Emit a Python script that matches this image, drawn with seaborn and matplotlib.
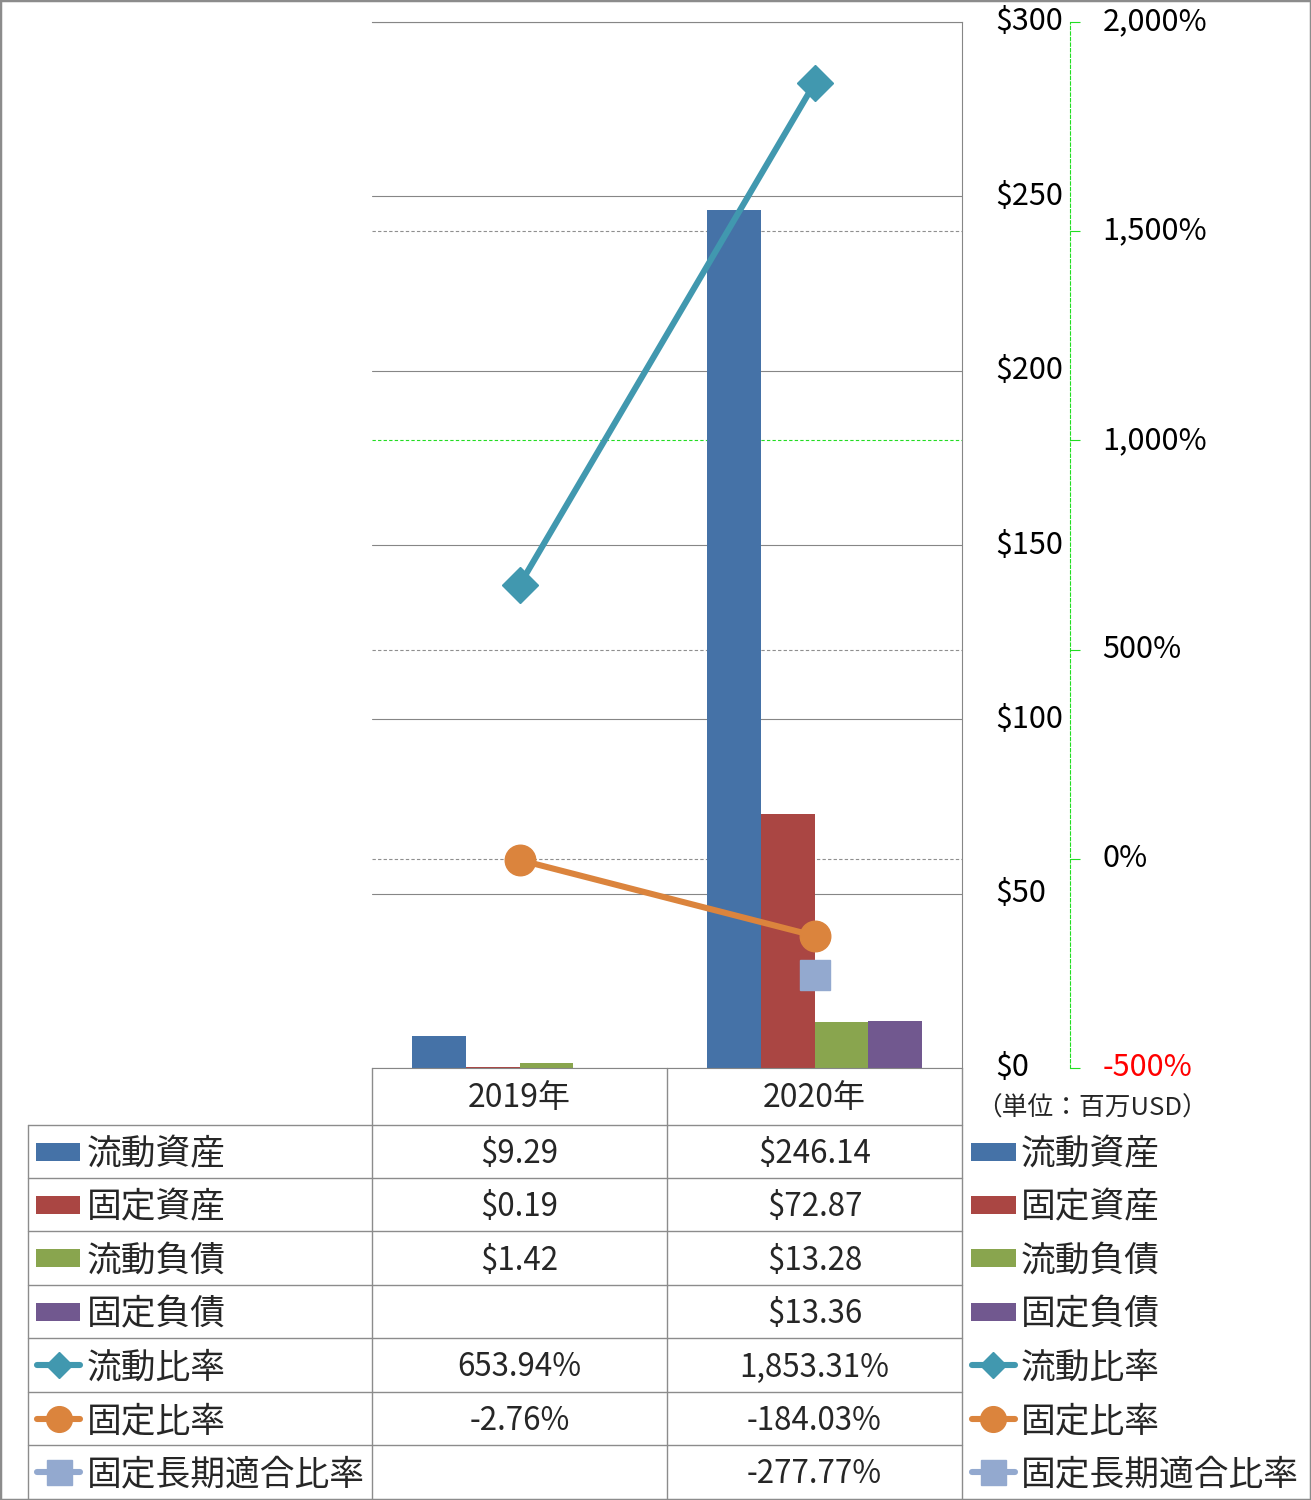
import numpy as np
import pandas as pd
import matplotlib
matplotlib.use("Agg")
import matplotlib.pyplot as plt
import seaborn as sns
from matplotlib.lines import Line2D
from matplotlib.patches import Rectangle

# ---------------- data ----------------
years = ["2019年", "2020年"]
bar_series = ["流動資産", "固定資産", "流動負債", "固定負債"]
current_assets = [9.29, 246.14]
fixed_assets = [0.19, 72.87]
current_liabilities = [1.42, 13.28]
fixed_liabilities = [np.nan, 13.36]

line_series = ["流動比率", "固定比率", "固定長期適合比率"]
current_ratio = [653.94, 1853.31]
fixed_ratio = [-2.76, -184.03]
fixed_long_term_ratio = [np.nan, -277.77]

usd_ticks = [0, 50, 100, 150, 200, 250, 300]
usd_tick_labels = ["$0", "$50", "$100", "$150", "$200", "$250", "$300"]
pct_ticks = [-500, 0, 500, 1000, 1500, 2000]
pct_tick_labels = ["-500%", "0%", "500%", "1,000%", "1,500%", "2,000%"]
unit_label = "（単位：百万USD）"

bar_colors = ["#4572A7", "#AA4643", "#89A54E", "#71588F"]
line_colors = ["#4198AF", "#DB843D", "#93A9CF"]
line_markers = ["D", "o", "s"]

# ---------------- setup ----------------
sns.set_theme(style="white")
plt.rcParams["font.family"] = ["Noto Sans CJK JP", "DejaVu Sans"]

W, H = 1311, 1500
fig = plt.figure(figsize=(W / 100, H / 100), dpi=100)
fig.patch.set_facecolor("white")


def fx(x):
    return x / W


def fy(y):
    return 1 - y / H


GRID = "#868686"
LIME = "#22DD22"

PL, PR, PT, PB = 372, 962, 22, 1068
ax = fig.add_axes([fx(PL), fy(PB), fx(PR) - fx(PL), fy(PT) - fy(PB)])
axg = ax.twinx()
axl = ax.twinx()
axg.set_zorder(1)
ax.set_zorder(2)
axl.set_zorder(3)
for a in (ax, axg, axl):
    a.patch.set_visible(False)

# ---------------- bars ----------------
bar_values = [current_assets, fixed_assets, current_liabilities, fixed_liabilities]
rows = []
for s, vals in zip(bar_series, bar_values):
    for y, v in zip(years, vals):
        if not np.isnan(v):
            rows.append({"year": y, "series": s, "value": v})
df_bars = pd.DataFrame(rows)

sns.barplot(data=df_bars, x="year", y="value", hue="series", order=years,
            hue_order=bar_series, palette=bar_colors, width=0.73,
            saturation=1, errorbar=None, legend=False, linewidth=0, ax=ax)

ax.set_xlim(-0.5, len(years) - 0.5)
ax.set_ylim(usd_ticks[0], usd_ticks[-1])
ax.set_yticks(usd_ticks, usd_tick_labels)
ax.yaxis.tick_right()
ax.tick_params(axis="y", length=0, pad=24, labelsize=22, colors="black",
               right=False, left=False, labelright=True, labelleft=False)
ax.tick_params(axis="x", length=0, labelbottom=False)
ax.set_xlabel("")
ax.set_ylabel("")
ax.yaxis.grid(True, color=GRID, lw=0.8, ls="-")
ax.set_axisbelow(True)
ax.spines["left"].set_visible(False)
for side in ["top", "bottom", "right"]:
    ax.spines[side].set_visible(True)
    ax.spines[side].set_color(GRID)
    ax.spines[side].set_linewidth(0.8)
for t in ax.get_yticklabels():
    t.set_verticalalignment("center")

# ---------------- secondary (percent) axis & grid ----------------
axg.set_ylim(pct_ticks[0], pct_ticks[-1])
axg.set_yticks(pct_ticks, pct_tick_labels)
axg.tick_params(axis="y", direction="out", length=7, width=0.8, color=LIME,
                pad=16, labelsize=22, labelcolor="black")
for side in ["left", "top", "bottom"]:
    axg.spines[side].set_visible(False)
axg.spines["right"].set_position(("outward", 78))
axg.spines["right"].set_color(LIME)
axg.spines["right"].set_linestyle((0, (3, 2)))
axg.spines["right"].set_linewidth(0.8)
axg.grid(False)
for t in axg.get_yticklabels():
    t.set_verticalalignment("center")
    if t.get_text().startswith("-"):
        t.set_color("red")
for v in pct_ticks[1:-1]:
    axg.axhline(v, color=(LIME if v == 1000 else "#8f8f8f"), lw=0.8,
                ls=(0, (3, 2)), zorder=0)

# ---------------- lines ----------------
axl.set_ylim(pct_ticks[0], pct_ticks[-1])
axl.set_yticks([])
for side in ["left", "top", "bottom", "right"]:
    axl.spines[side].set_visible(False)
axl.grid(False)

xpos = np.arange(len(years))
line_values = [current_ratio, fixed_ratio, fixed_long_term_ratio]
marker_sizes = [18.5, 22, 21]
for vals, c, m, ms in zip(line_values, line_colors, line_markers, marker_sizes):
    sns.lineplot(x=xpos, y=vals, ax=axl, color=c, lw=4.4, marker=m,
                 markersize=ms, markeredgecolor=c, markeredgewidth=1,
                 legend=False, solid_capstyle="round")

# ---------------- data table ----------------
TC = "#8c8c8c"
row_y = [1125, 1178, 1231, 1285, 1338, 1392, 1445, 1498]
col_x = [28, 372, 667, 962]


def hline(x0, x1, y):
    fig.add_artist(Line2D([fx(x0), fx(x1)], [fy(y), fy(y)], color=TC, lw=1.0,
                          transform=fig.transFigure))


def vline(x, y0, y1):
    fig.add_artist(Line2D([fx(x), fx(x)], [fy(y0), fy(y1)], color=TC, lw=1.0,
                          transform=fig.transFigure))


for y in row_y[:-1]:
    hline(col_x[0], col_x[-1], y)
vline(col_x[0], row_y[0], H)
vline(col_x[1], PB, H)
vline(col_x[2], PB, H)
vline(col_x[3], PB, H)

col_centers = [(col_x[1] + col_x[2]) / 2, (col_x[2] + col_x[3]) / 2]

# header (years)
for cx, yr in zip(col_centers, years):
    fig.text(fx(cx), fy(1096 + 11.5), yr, ha="center", va="baseline", fontsize=23)

all_series = bar_series + line_series
all_values = bar_values + line_values


def fmt(v, kind):
    if v is None or np.isnan(v):
        return ""
    if kind == "bar":
        return f"${v:,.2f}"
    return f"{v:,.2f}%"


def draw_key(x0, x1, cy, idx):
    if idx < len(bar_series):
        fig.add_artist(Rectangle((fx(x0), fy(cy + 9)), fx(x1) - fx(x0),
                                 fy(cy - 9) - fy(cy + 9),
                                 color=bar_colors[idx], lw=0,
                                 transform=fig.transFigure))
    else:
        j = idx - len(bar_series)
        c = line_colors[j]
        fig.add_artist(Line2D([fx(x0), fx(x1)], [fy(cy), fy(cy)], color=c, lw=4.4,
                              solid_capstyle="round", transform=fig.transFigure))
        ms = [13.5, 18.5, 18][j]
        fig.add_artist(Line2D([fx((x0 + x1) / 2)], [fy(cy)], color=c, lw=0,
                              marker=line_markers[j], markersize=ms,
                              markerfacecolor=c, markeredgecolor=c,
                              transform=fig.transFigure))


for i, (name, vals) in enumerate(zip(all_series, all_values)):
    cy = (row_y[i] + row_y[i + 1]) / 2
    kind = "bar" if i < len(bar_series) else "line"
    # left table legend
    if kind == "bar":
        draw_key(36, 80, cy, i)
    else:
        draw_key(37, 80, cy, i)
    fig.text(fx(87), fy(cy + 13), name, ha="left", va="baseline", fontsize=25)
    for cx, v in zip(col_centers, vals):
        fig.text(fx(cx), fy(cy + 11.5), fmt(v, kind), ha="center", va="baseline",
                 fontsize=22.5)
    # right legend
    if kind == "bar":
        draw_key(971, 1016, cy, i)
    else:
        draw_key(972, 1015, cy, i)
    fig.text(fx(1021), fy(cy + 13), name, ha="left", va="baseline", fontsize=25)

fig.text(fx(976), fy(1108 + 8), unit_label, ha="left", va="baseline", fontsize=18.5)

# outer border
fig.add_artist(Rectangle((0, 0), 1, 1, fill=False, ec="#8c8c8c", lw=2.5,
                         transform=fig.transFigure))

fig.savefig("out.png", dpi=100, facecolor="white")
